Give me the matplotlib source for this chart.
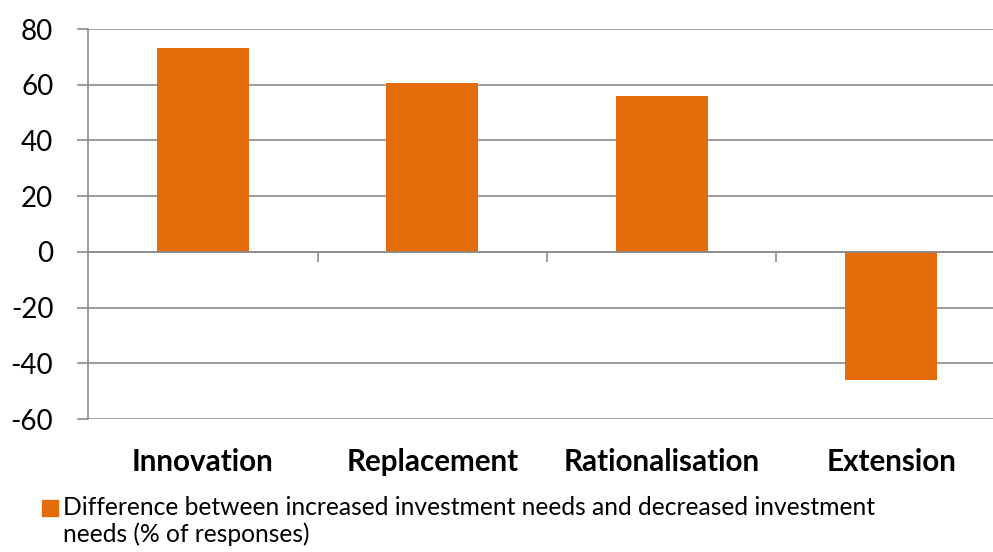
import numpy as np
from matplotlib import pyplot as plt
from matplotlib.patches import Rectangle

categories = ["Innovation", "Replacement", "Rationalisation", "Extension"]
values = [73.2, 60.6, 55.8, -45.9]
y_ticks = [-60, -40, -20, 0, 20, 40, 60, 80]
legend_label = ("Difference between increased investment needs and decreased investment\n"
                "needs (% of responses)")

orange = "#E46C0A"
grey = "#8C8C8C"

plt.rcParams['font.family'] = ['Lato', 'DejaVu Sans']

W, H = 993, 552
fig = plt.figure(figsize=(W / 100, H / 100), dpi=100)
ax = fig.add_axes([88 / W, 1 - 419 / H, (1006 - 88) / W, (419 - 29) / H])

x = np.arange(len(categories))
ax.bar(x, values, width=0.4, color=orange, zorder=3)

ax.set_xlim(-0.5, len(categories) - 0.5)
ax.set_ylim(-60, 80)
ax.set_yticks(y_ticks)
ax.set_yticklabels([str(v) for v in y_ticks], fontsize=20)
ax.yaxis.grid(True, color=grey, linewidth=1.2, zorder=0)
ax.tick_params(axis='y', length=8, width=1.2, color=grey, pad=17)

# x axis sits at zero, with ticks between categories
for s in ['top', 'right']:
    ax.spines[s].set_visible(False)
ax.spines['left'].set_color(grey)
ax.spines['left'].set_linewidth(1.2)
ax.spines['bottom'].set_position(('data', 0))
ax.spines['bottom'].set_color(grey)
ax.spines['bottom'].set_linewidth(1.2)
ax.spines['bottom'].set_zorder(4)
ax.set_xticks(x[:-1] + 0.5)
ax.set_xticklabels([])
ax.tick_params(axis='x', length=7, width=1.2, color=grey)

for i, c in enumerate(categories):
    ax.text(i, -0.11, c, transform=ax.get_xaxis_transform(), ha='center', va='center',
            fontsize=21.3, fontweight='bold')

fig.patches.append(Rectangle((42 / W, 1 - 516 / H), 16 / W, 16 / H, color=orange,
                             transform=fig.transFigure))
fig.text(63 / W, 1 - 521 / H, legend_label, fontsize=17.7, va='center', ha='left',
         linespacing=1.2)

fig.savefig("out.png", dpi=100)
